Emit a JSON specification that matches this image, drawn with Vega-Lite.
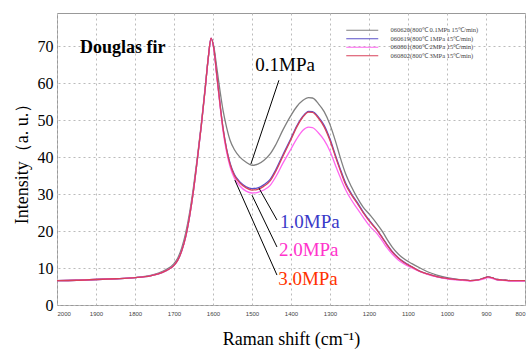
{
  "$schema": "https://vega.github.io/schema/vega-lite/v6.json",
  "autosize": {"type": "none"},
  "width": 468,
  "height": 292,
  "padding": {"left": 57, "top": 13, "right": 4, "bottom": 44},
  "background": "white",
  "datasets": {
    "spec": [
      {"wn": 2000, "a": 6.6, "b": 6.6, "c": 6.6, "d": 6.6},
      {"wn": 1950, "a": 6.7, "b": 6.7, "c": 6.7, "d": 6.7},
      {"wn": 1900, "a": 6.9, "b": 6.9, "c": 6.9, "d": 6.9},
      {"wn": 1850, "a": 7.1, "b": 7.1, "c": 7.1, "d": 7.1},
      {"wn": 1800, "a": 7.4, "b": 7.4, "c": 7.4, "d": 7.4},
      {"wn": 1760, "a": 8.0, "b": 7.9, "c": 7.9, "d": 7.9},
      {"wn": 1740, "a": 8.6, "b": 8.4, "c": 8.4, "d": 8.4},
      {"wn": 1720, "a": 9.6, "b": 9.3, "c": 9.3, "d": 9.3},
      {"wn": 1700, "a": 11.2, "b": 10.7, "c": 10.7, "d": 10.7},
      {"wn": 1690, "a": 12.8, "b": 12.2, "c": 12.2, "d": 12.2},
      {"wn": 1680, "a": 15.5, "b": 14.7, "c": 14.7, "d": 14.7},
      {"wn": 1670, "a": 19.5, "b": 18.5, "c": 18.5, "d": 18.5},
      {"wn": 1660, "a": 25, "b": 24, "c": 24, "d": 24},
      {"wn": 1650, "a": 32, "b": 31, "c": 31, "d": 31},
      {"wn": 1640, "a": 40, "b": 39.5, "c": 39.5, "d": 39.5},
      {"wn": 1630, "a": 49, "b": 48.5, "c": 48.5, "d": 48.5},
      {"wn": 1620, "a": 59, "b": 58.5, "c": 58.5, "d": 58.5},
      {"wn": 1612, "a": 67, "b": 67, "c": 67, "d": 67},
      {"wn": 1605, "a": 72, "b": 72.2, "c": 72.2, "d": 72.2},
      {"wn": 1598, "a": 70, "b": 69.5, "c": 69.3, "d": 69.5},
      {"wn": 1590, "a": 64, "b": 62, "c": 61.5, "d": 62},
      {"wn": 1580, "a": 56.5, "b": 52.6, "c": 52, "d": 52.5},
      {"wn": 1574, "a": 52.5, "b": 47.7, "c": 46.8, "d": 47.5},
      {"wn": 1565, "a": 48, "b": 42.2, "c": 41.3, "d": 42},
      {"wn": 1556, "a": 44.5, "b": 38.3, "c": 37.3, "d": 38},
      {"wn": 1545, "a": 42, "b": 35.3, "c": 34.3, "d": 35},
      {"wn": 1531, "a": 40, "b": 33.3, "c": 32.2, "d": 33},
      {"wn": 1515, "a": 38.6, "b": 32, "c": 30.8, "d": 31.7},
      {"wn": 1500, "a": 37.8, "b": 31.5, "c": 30.3, "d": 31.1},
      {"wn": 1485, "a": 38.1, "b": 31.7, "c": 30.5, "d": 31.3},
      {"wn": 1470, "a": 39.1, "b": 32.5, "c": 31.1, "d": 32.1},
      {"wn": 1454, "a": 40.8, "b": 33.9, "c": 32.3, "d": 33.5},
      {"wn": 1440, "a": 43.2, "b": 36.4, "c": 34.5, "d": 36},
      {"wn": 1421, "a": 47.3, "b": 40.6, "c": 38.3, "d": 40.2},
      {"wn": 1400, "a": 51.3, "b": 45.1, "c": 42.2, "d": 44.8},
      {"wn": 1385, "a": 53.7, "b": 48.5, "c": 45, "d": 48.2},
      {"wn": 1370, "a": 55.3, "b": 51, "c": 47.2, "d": 50.8},
      {"wn": 1355, "a": 56.1, "b": 52.4, "c": 48.1, "d": 52.2},
      {"wn": 1345, "a": 56, "b": 52.3, "c": 48, "d": 52.1},
      {"wn": 1330, "a": 54.5, "b": 50.9, "c": 46.6, "d": 50.6},
      {"wn": 1315, "a": 52.3, "b": 48.6, "c": 44.6, "d": 48.2},
      {"wn": 1300, "a": 48.8, "b": 44.9, "c": 41.6, "d": 44.5},
      {"wn": 1285, "a": 44, "b": 40.2, "c": 37.5, "d": 39.8},
      {"wn": 1274, "a": 40, "b": 36.9, "c": 34.6, "d": 36.5},
      {"wn": 1260, "a": 35.5, "b": 33, "c": 31.2, "d": 32.6},
      {"wn": 1245, "a": 32, "b": 30.1, "c": 28.4, "d": 29.8},
      {"wn": 1231, "a": 29.2, "b": 27.9, "c": 26.2, "d": 27.6},
      {"wn": 1215, "a": 26.5, "b": 25.2, "c": 23.8, "d": 25},
      {"wn": 1197, "a": 24.3, "b": 22.6, "c": 21.2, "d": 22.4},
      {"wn": 1180, "a": 22, "b": 20.4, "c": 19.4, "d": 20.3},
      {"wn": 1165, "a": 19.8, "b": 18.1, "c": 17.2, "d": 18},
      {"wn": 1154, "a": 17.8, "b": 16.4, "c": 15.5, "d": 16.3},
      {"wn": 1140, "a": 15.6, "b": 14.4, "c": 13.7, "d": 14.3},
      {"wn": 1125, "a": 13.8, "b": 12.8, "c": 12.2, "d": 12.7},
      {"wn": 1113, "a": 12.7, "b": 11.8, "c": 11.3, "d": 11.7},
      {"wn": 1090, "a": 11.2, "b": 10.3, "c": 10, "d": 10.3},
      {"wn": 1069, "a": 10, "b": 9.1, "c": 9, "d": 9.1},
      {"wn": 1050, "a": 9, "b": 8.4, "c": 8.3, "d": 8.4},
      {"wn": 1026, "a": 8.1, "b": 7.7, "c": 7.6, "d": 7.7},
      {"wn": 1000, "a": 7.4, "b": 7.2, "c": 7.1, "d": 7.2},
      {"wn": 985, "a": 7.1, "b": 7, "c": 6.9, "d": 7},
      {"wn": 960, "a": 6.8, "b": 6.8, "c": 6.7, "d": 6.8},
      {"wn": 941, "a": 6.6, "b": 6.6, "c": 6.5, "d": 6.6},
      {"wn": 920, "a": 6.8, "b": 6.8, "c": 6.7, "d": 6.8},
      {"wn": 905, "a": 7.3, "b": 7.3, "c": 7.1, "d": 7.3},
      {"wn": 895, "a": 7.6, "b": 7.6, "c": 7.4, "d": 7.6},
      {"wn": 885, "a": 7.4, "b": 7.4, "c": 7.2, "d": 7.4},
      {"wn": 872, "a": 6.9, "b": 6.9, "c": 6.8, "d": 6.9},
      {"wn": 850, "a": 6.7, "b": 6.7, "c": 6.6, "d": 6.7},
      {"wn": 838, "a": 6.6, "b": 6.6, "c": 6.5, "d": 6.6},
      {"wn": 800, "a": 6.6, "b": 6.6, "c": 6.5, "d": 6.6}
    ]
  },
  "layer": [
    {
      "data": {"name": "spec"},
      "transform": [{"fold": ["a", "b", "c", "d"], "as": ["s", "v"]}],
      "mark": {"type": "line", "interpolate": "monotone", "strokeWidth": 1.3},
      "encoding": {
        "x": {"field": "wn", "type": "quantitative", "scale": {"domain": [800, 2000], "reverse": true, "nice": false}, "title": "Raman shift   (cm⁻¹)"},
        "y": {"field": "v", "type": "quantitative", "scale": {"domain": [0, 79], "nice": false}, "title": "Intensity（a. u.）"},
        "color": {
          "field": "s", "type": "nominal",
          "scale": {"domain": ["a", "b", "c", "d"], "range": ["#808080", "#5a50c8", "#ff66f0", "#d8405a"]},
          "legend": {
            "title": null,
            "orient": "none", "legendX": 286, "legendY": 14,
            "labelExpr": "{'a':'060620(800℃  0.1MPa  15℃/min)','b':'060619(800℃  1MPa  15℃/min)','c':'060801(800℃  2MPa  15℃/min)','d':'060802(800℃  3MPa  15℃/min)'}[datum.label]",
            "labelFontSize": 6.5, "labelFont": "Times New Roman, Liberation Serif, serif", "labelColor": "#444",
            "symbolType": "M0,0H16", "symbolSize": 16, "symbolStrokeWidth": 1.2,
            "labelOffset": 41, "rowPadding": 1.5
          }
        }
      }
    },
    {
      "data": {"values": [
        {"wn": 1431, "v": 60.8, "wn2": 1503, "v2": 38.1},
        {"wn": 1482, "v": 31.6, "wn2": 1436, "v2": 23},
        {"wn": 1500, "v": 29.7, "wn2": 1436, "v2": 15.7},
        {"wn": 1544, "v": 33.8, "wn2": 1436, "v2": 8.1}
      ]},
      "mark": {"type": "rule", "color": "#000", "strokeWidth": 1},
      "encoding": {
        "x": {"field": "wn", "type": "quantitative", "title": "Raman shift   (cm⁻¹)"},
        "x2": {"field": "wn2"},
        "y": {"field": "v", "type": "quantitative", "title": "Intensity（a. u.）"},
        "y2": {"field": "v2"}
      }
    },
    {
      "data": {"values": [{"wn": 1941, "v": 69.5, "t": "Douglas fir"}]},
      "mark": {"type": "text", "align": "left", "baseline": "middle", "font": "Times New Roman, Liberation Serif, serif", "fontWeight": "bold", "fontSize": 18, "color": "#000"},
      "encoding": {
        "x": {"field": "wn", "type": "quantitative", "title": "Raman shift   (cm⁻¹)"},
        "y": {"field": "v", "type": "quantitative", "title": "Intensity（a. u.）"},
        "text": {"field": "t"}
      }
    },
    {
      "data": {"values": [{"wn": 1415, "v": 64.9, "t": "0.1MPa"}]},
      "mark": {"type": "text", "align": "center", "baseline": "middle", "font": "Times New Roman, Liberation Serif, serif", "fontSize": 19, "color": "#000"},
      "encoding": {
        "x": {"field": "wn", "type": "quantitative", "title": "Raman shift   (cm⁻¹)"},
        "y": {"field": "v", "type": "quantitative", "title": "Intensity（a. u.）"},
        "text": {"field": "t"}
      }
    },
    {
      "data": {"values": [{"wn": 1428, "v": 22.4, "t": "1.0MPa"}]},
      "mark": {"type": "text", "align": "left", "baseline": "middle", "font": "Times New Roman, Liberation Serif, serif", "fontSize": 19, "color": "#3a3ac8"},
      "encoding": {
        "x": {"field": "wn", "type": "quantitative", "title": "Raman shift   (cm⁻¹)"},
        "y": {"field": "v", "type": "quantitative", "title": "Intensity（a. u.）"},
        "text": {"field": "t"}
      }
    },
    {
      "data": {"values": [{"wn": 1431, "v": 14.9, "t": "2.0MPa"}]},
      "mark": {"type": "text", "align": "left", "baseline": "middle", "font": "Times New Roman, Liberation Serif, serif", "fontSize": 19, "color": "#ff33cc"},
      "encoding": {
        "x": {"field": "wn", "type": "quantitative", "title": "Raman shift   (cm⁻¹)"},
        "y": {"field": "v", "type": "quantitative", "title": "Intensity（a. u.）"},
        "text": {"field": "t"}
      }
    },
    {
      "data": {"values": [{"wn": 1433, "v": 6.9, "t": "3.0MPa"}]},
      "mark": {"type": "text", "align": "left", "baseline": "middle", "font": "Times New Roman, Liberation Serif, serif", "fontSize": 19, "color": "#ff3300"},
      "encoding": {
        "x": {"field": "wn", "type": "quantitative", "title": "Raman shift   (cm⁻¹)"},
        "y": {"field": "v", "type": "quantitative", "title": "Intensity（a. u.）"},
        "text": {"field": "t"}
      }
    }
  ],
  "config": {
    "view": {"stroke": "#999", "strokeWidth": 1},
    "axis": {
      "grid": true, "gridColor": "#bbbbbb", "gridDash": [2, 3], "gridWidth": 1,
      "domain": false, "ticks": false,
      "labelFont": "Times New Roman, Liberation Serif, serif", "titleFont": "Times New Roman, Liberation Serif, serif",
      "titleFontWeight": "normal", "labelColor": "#000", "titleColor": "#000"
    },
    "axisX": {
      "values": [2000, 1900, 1800, 1700, 1600, 1500, 1400, 1300, 1200, 1100, 1000, 900, 800],
      "format": "d",
      "labelFontSize": 6, "labelFont": "Liberation Sans, Arial, sans-serif", "labelColor": "#444", "labelPadding": 5,
      "titleFontSize": 18, "titlePadding": 14
    },
    "axisY": {
      "values": [0, 10, 20, 30, 40, 50, 60, 70],
      "labelFontSize": 16, "labelPadding": 4,
      "titleFontSize": 18, "titlePadding": 6
    }
  }
}
